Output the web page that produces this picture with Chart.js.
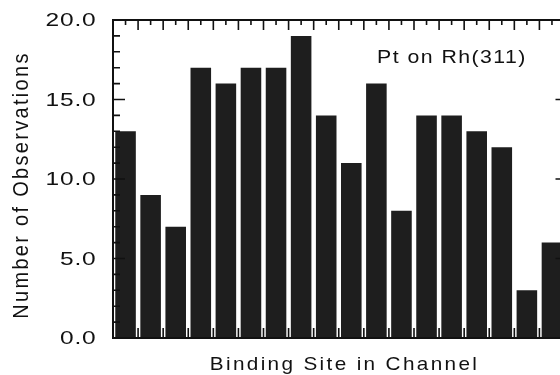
<!DOCTYPE html>
<html>
<head>
<meta charset="utf-8">
<script src="https://cdn.jsdelivr.net/npm/chart.js@4.4.1/dist/chart.umd.min.js"></script>
<style>
  html, body { margin: 0; padding: 0; overflow: hidden; background: #fff; }
  #wrap { width: 566px; height: 375px; }
</style>
</head>
<body>
<div id="wrap"><canvas id="sitesChart" width="566" height="375"></canvas></div>
<script>
// binding sites along the channel (18 sites, the last one runs off the right edge)
const sites = ['1', '2', '3', '4', '5', '6', '7', '8', '9', '10', '11', '12', '13', '14', '15', '16', '17', '18'];
const observations = [13, 9, 7, 17, 16, 17, 17, 19, 14, 11, 16, 8, 14, 14, 13, 12, 3, 6];
const yTicks = [0, 5, 10, 15, 20];
const chartLabel = 'Pt on Rh(311)';
const xTitle = 'Binding Site in Channel';
const yTitle = 'Number of Observations';

const font = '"Liberation Sans", Arial, Helvetica, sans-serif';

// the scanned figure has wide lettering, so text is stretched sideways a bit
function wideText(ctx, text, x, y, sx, align) {
  ctx.save();
  ctx.translate(x, y);
  ctx.scale(sx, 1);
  ctx.textAlign = align;
  ctx.fillText(text, 0, 0);
  ctx.restore();
}

// box with inward ticks on all four sides, plus the labels
const frameTicks = {
  id: 'frameTicks',
  afterDraw(chart) {
    const { ctx, chartArea: a, scales: { x, y } } = chart;
    ctx.save();
    ctx.strokeStyle = '#111';
    ctx.lineWidth = 1.6;
    ctx.beginPath();
    for (let v = y.min; v <= y.max; v++) {
      const py = y.getPixelForValue(v);
      const major = v % 5 === 0;
      ctx.moveTo(a.left, py); ctx.lineTo(a.left + (major ? 12 : 7), py);
      if (major) { ctx.moveTo(a.right, py); ctx.lineTo(a.right - 9, py); }
    }
    const step = x.getPixelForValue(1) - x.getPixelForValue(0);
    sites.forEach((s, i) => {
      const c = x.getPixelForValue(i);
      const e = c - step / 2;
      ctx.moveTo(e, a.top); ctx.lineTo(e, a.top + 10);
      ctx.moveTo(c, a.top); ctx.lineTo(c, a.top + 5);
      ctx.moveTo(e, a.bottom); ctx.lineTo(e, a.bottom - 10);
    });
    ctx.stroke();
    ctx.lineWidth = 2;
    ctx.strokeRect(a.left, a.top, a.right - a.left, a.bottom - a.top);

    ctx.fillStyle = '#111';
    ctx.textBaseline = 'middle';

    // y tick labels
    ctx.font = '17.5px ' + font;
    ctx.letterSpacing = '0.6px';
    yTicks.forEach(v => {
      wideText(ctx, v.toFixed(1), 96.5, y.getPixelForValue(v) + 1.5, 1.4, 'right');
    });

    ctx.font = '19px ' + font;
    ctx.letterSpacing = '1.3px';
    wideText(ctx, chartLabel, 452, 58, 1.12, 'center');

    ctx.font = '18.5px ' + font;
    ctx.letterSpacing = '2.1px';
    wideText(ctx, xTitle, 344.5, 365, 1.12, 'center');

    ctx.translate(22, 185);
    ctx.rotate(-Math.PI / 2);
    ctx.scale(1, 1.08);
    ctx.font = '20px ' + font;
    ctx.letterSpacing = '2.3px';
    ctx.textAlign = 'center';
    ctx.fillText(yTitle, 0, 0);
    ctx.restore();
  }
};

new Chart(document.getElementById('sitesChart'), {
  type: 'bar',
  data: {
    labels: sites,
    datasets: [{
      label: 'Observations',
      data: observations,
      backgroundColor: '#1e1e1e',
      borderWidth: 0,
      categoryPercentage: 1,
      barPercentage: 0.82
    }]
  },
  options: {
    responsive: false,
    animation: false,
    events: [],
    layout: { padding: { top: 20, right: 1.5, left: 0, bottom: 0 } },
    plugins: { legend: { display: false }, tooltip: { enabled: false } },
    scales: {
      x: {
        grid: { display: false, drawTicks: false },
        border: { display: false },
        ticks: { display: false },
        afterFit: s => { s.height = 37; }
      },
      y: {
        min: 0,
        max: 20,
        afterBuildTicks: s => { s.ticks = yTicks.map(v => ({ value: v })); },
        grid: { display: false, drawTicks: false },
        border: { display: false },
        ticks: { display: false },
        afterFit: s => { s.width = 113; }
      }
    }
  },
  plugins: [frameTicks]
});
</script>
</body>
</html>
